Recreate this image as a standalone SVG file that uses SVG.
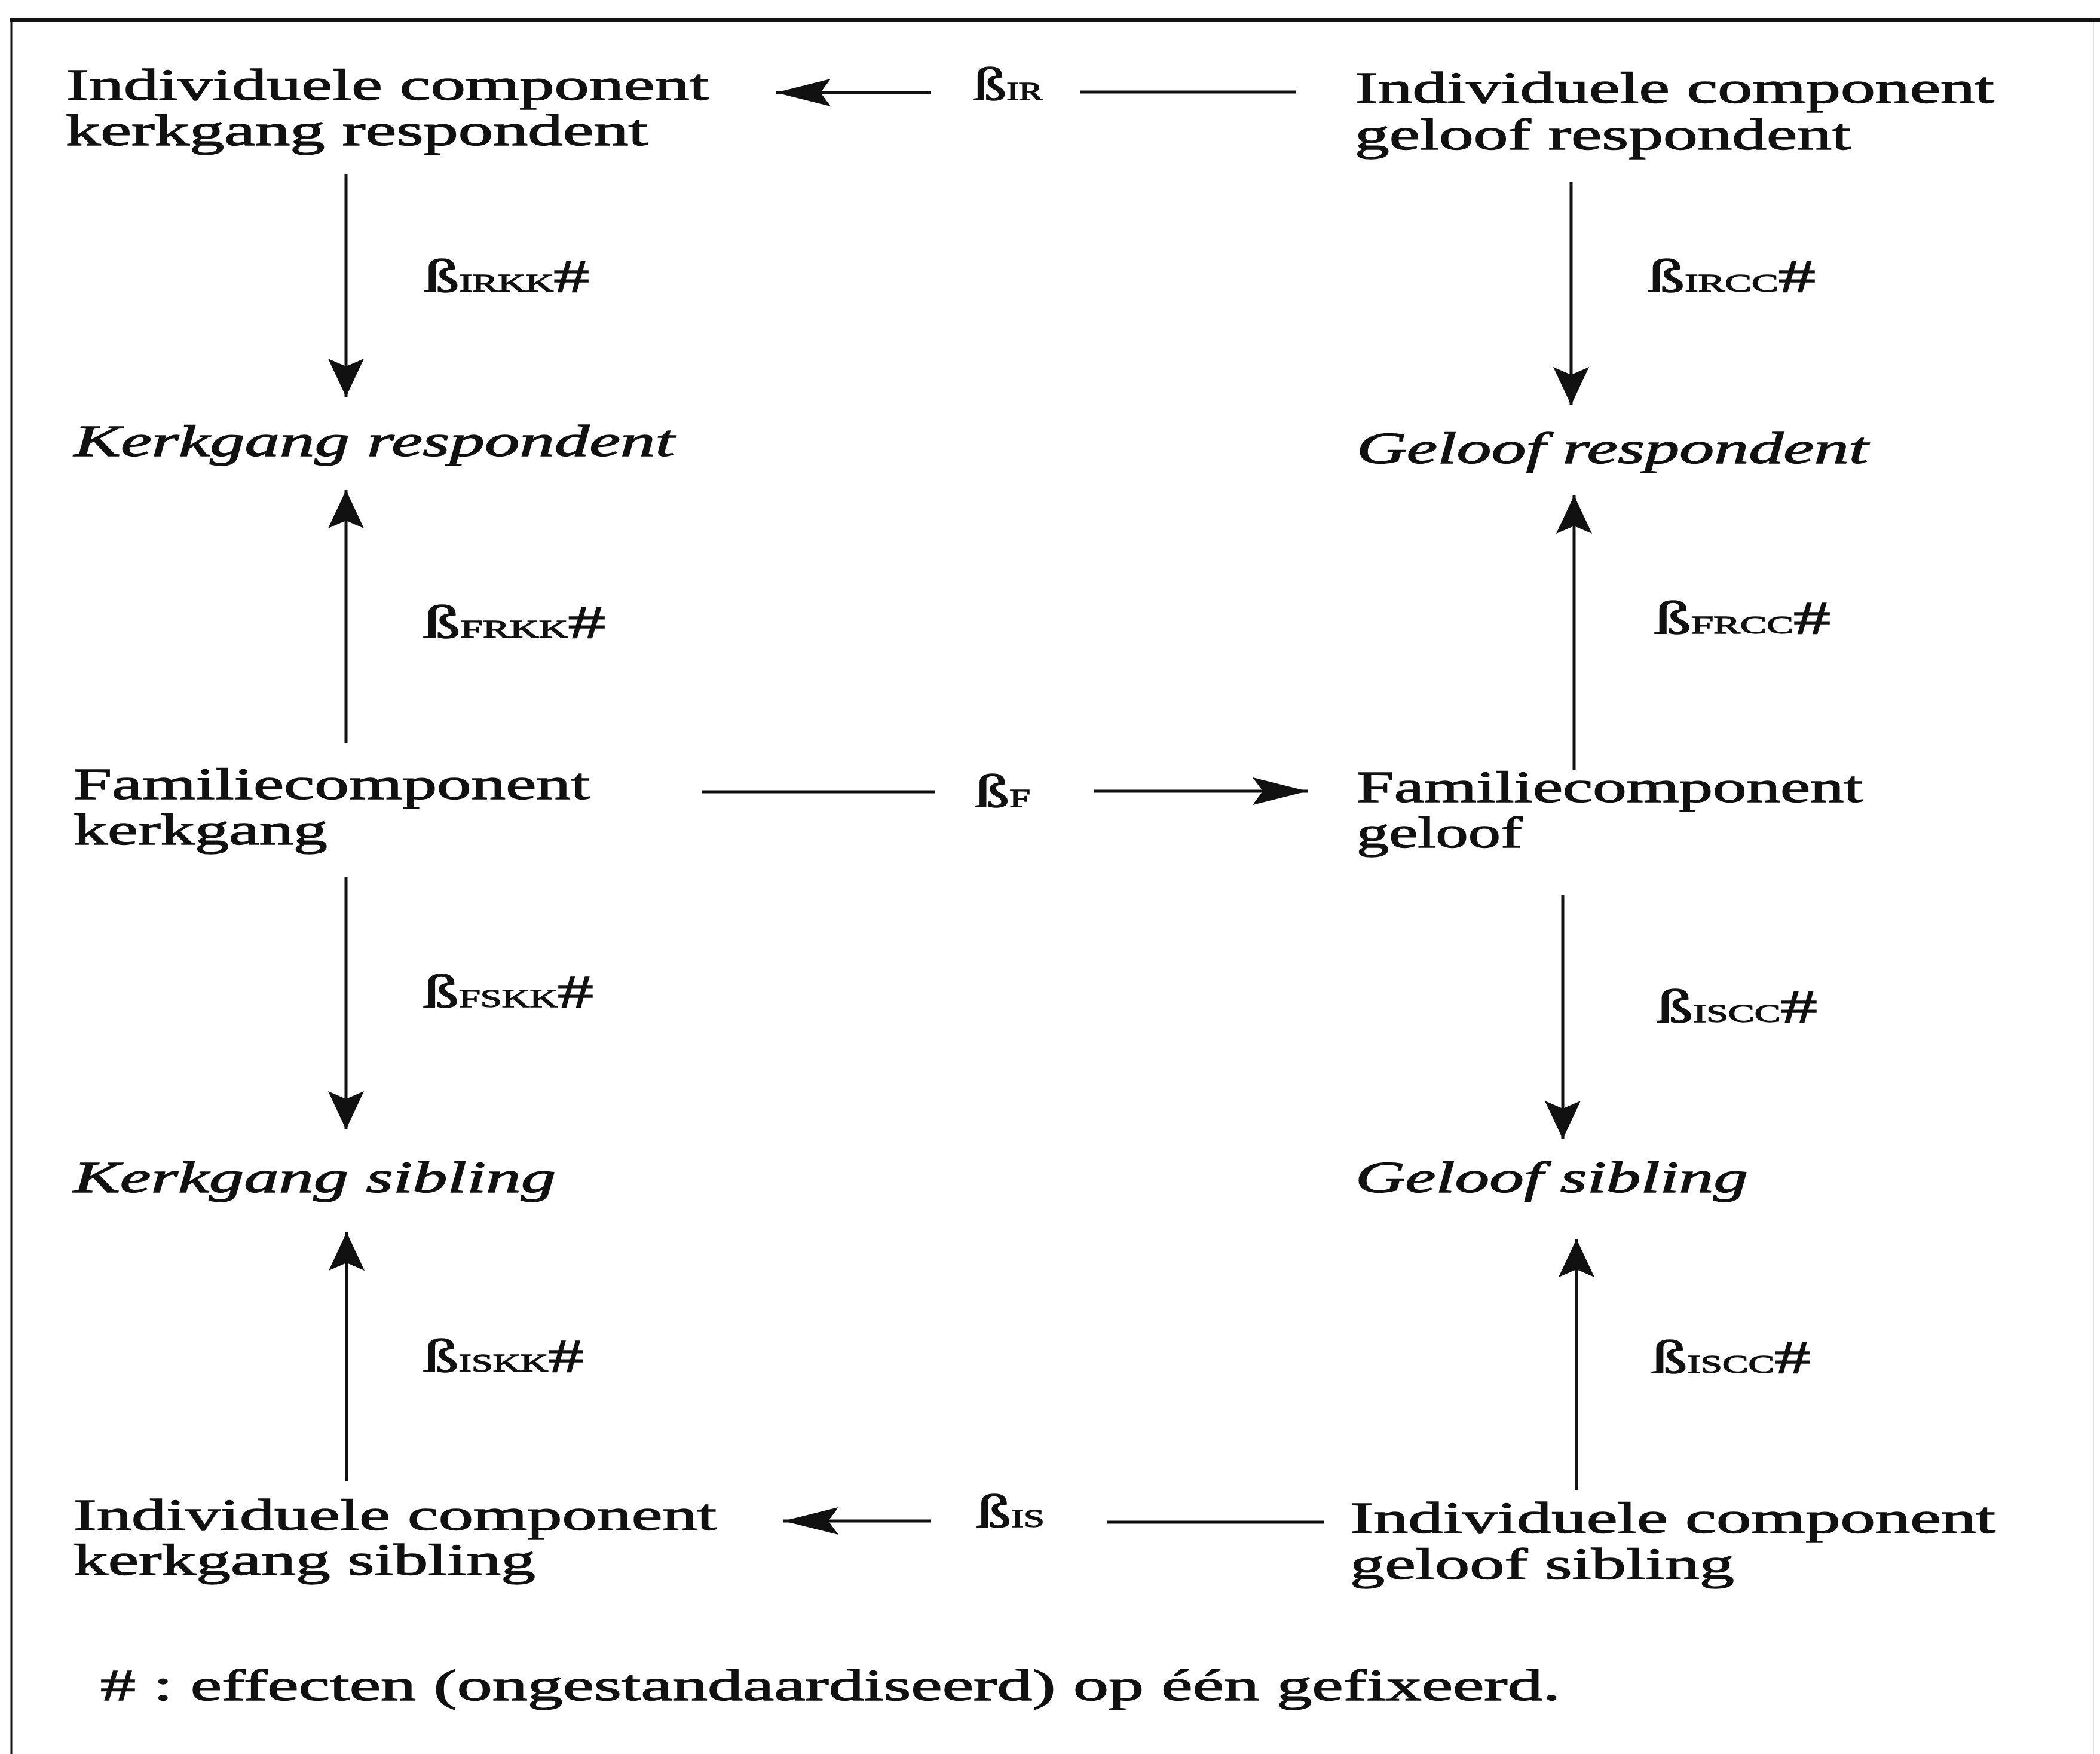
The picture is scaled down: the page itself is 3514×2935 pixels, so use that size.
<svg xmlns="http://www.w3.org/2000/svg" width="3514" height="2935" viewBox="0 0 3514 2935">
<style>
  .t { font-family: "Liberation Serif", "Times New Roman", serif; font-size: 74px; fill: #111; stroke: #111; stroke-width: 1.3; }
  .i { font-style: italic; }
  .lb { font-family: "Liberation Serif", "Times New Roman", serif; font-size: 78px; fill: #111; stroke: #111; stroke-width: 1.3; }
  .sc { font-size: 42px; }
  .ln { stroke: #111; stroke-width: 5; fill: none; }
  .lh { marker-end: url(#ah); }
  .lv { marker-end: url(#av); }
</style>
<defs>
  <marker id="ah" markerUnits="userSpaceOnUse" viewBox="0 0 92 46" markerWidth="92" markerHeight="46" refX="92" refY="23" orient="auto">
    <path d="M0,0 L92,23 L0,46 L17,23 Z" fill="#111"/>
  </marker>
  <marker id="av" markerUnits="userSpaceOnUse" viewBox="0 0 64 60" markerWidth="64" markerHeight="60" refX="64" refY="30" orient="auto">
    <path d="M0,0 L64,30 L0,60 L13,30 Z" fill="#111"/>
  </marker>
</defs>
<rect x="0" y="0" width="3514" height="2935" fill="#fff"/>
<g id="frame">
  <line x1="16" y1="33" x2="3514" y2="33" stroke="#111" stroke-width="6"/>
  <line x1="19" y1="30" x2="19" y2="2935" stroke="#111" stroke-width="3"/>
  <line x1="3503" y1="36" x2="3503" y2="2935" stroke="#ddd" stroke-width="2"/>
</g>
<g id="n1">
  <text class="t" x="110" y="167" textLength="1076" lengthAdjust="spacingAndGlyphs">Individuele component</text>
  <text class="t" x="110" y="243" textLength="974" lengthAdjust="spacingAndGlyphs">kerkgang respondent</text>
</g>
<g id="n2">
  <text class="t" x="2267" y="172" textLength="1070" lengthAdjust="spacingAndGlyphs">Individuele component</text>
  <text class="t" x="2267" y="250" textLength="830" lengthAdjust="spacingAndGlyphs">geloof respondent</text>
</g>
<g id="n3">
  <text class="t i" x="124" y="763" textLength="1005" lengthAdjust="spacingAndGlyphs">Kerkgang respondent</text>
</g>
<g id="n4">
  <text class="t i" x="2270" y="775" textLength="856" lengthAdjust="spacingAndGlyphs">Geloof respondent</text>
</g>
<g id="n5">
  <text class="t" x="123" y="1337" textLength="864" lengthAdjust="spacingAndGlyphs">Familiecomponent</text>
  <text class="t" x="123" y="1413" textLength="425" lengthAdjust="spacingAndGlyphs">kerkgang</text>
</g>
<g id="n6">
  <text class="t" x="2270" y="1342" textLength="847" lengthAdjust="spacingAndGlyphs">Familiecomponent</text>
  <text class="t" x="2270" y="1418" textLength="277" lengthAdjust="spacingAndGlyphs">geloof</text>
</g>
<g id="n7">
  <text class="t i" x="123" y="1995" textLength="807" lengthAdjust="spacingAndGlyphs">Kerkgang sibling</text>
</g>
<g id="n8">
  <text class="t i" x="2268" y="1995" textLength="657" lengthAdjust="spacingAndGlyphs">Geloof sibling</text>
</g>
<g id="n9">
  <text class="t" x="123" y="2560" textLength="1076" lengthAdjust="spacingAndGlyphs">Individuele component</text>
  <text class="t" x="123" y="2635" textLength="773" lengthAdjust="spacingAndGlyphs">kerkgang sibling</text>
</g>
<g id="n10">
  <text class="t" x="2259" y="2565" textLength="1080" lengthAdjust="spacingAndGlyphs">Individuele component</text>
  <text class="t" x="2259" y="2642" textLength="643" lengthAdjust="spacingAndGlyphs">geloof sibling</text>
</g>
<g id="connectors">
  <path class="ln lh" d="M1558,155 L1298,155"/>
  <path class="ln" d="M1808,154 L2169,154"/>
  <path class="ln" d="M1175,1325 L1565,1325"/>
  <path class="ln lh" d="M1831,1324 L2188,1324"/>
  <path class="ln lh" d="M1558,2545 L1311,2545"/>
  <path class="ln" d="M1852,2547 L2216,2547"/>
  <path class="ln lv" d="M579,291 L579,664"/>
  <path class="ln lv" d="M579,1244 L579,820"/>
  <path class="ln lv" d="M579,1468 L579,1890"/>
  <path class="ln lv" d="M580,2478 L580,2062"/>
  <path class="ln lv" d="M2629,305 L2629,678"/>
  <path class="ln lv" d="M2634,1289 L2634,829"/>
  <path class="ln lv" d="M2615,1497 L2615,1906"/>
  <path class="ln lv" d="M2638,2493 L2638,2073"/>
</g>
<g id="labels">
  <text class="lb" x="1628" y="167" textLength="117" lengthAdjust="spacingAndGlyphs">ß<tspan class="sc">IR</tspan></text>
  <text class="lb" x="1631" y="1350" textLength="93" lengthAdjust="spacingAndGlyphs">ß<tspan class="sc">F</tspan></text>
  <text class="lb" x="1634" y="2555" textLength="114" lengthAdjust="spacingAndGlyphs">ß<tspan class="sc">IS</tspan></text>
  <text class="lb" x="709" y="488" textLength="277" lengthAdjust="spacingAndGlyphs">ß<tspan class="sc">IRKK</tspan>#</text>
  <text class="lb" x="2757" y="488" textLength="281" lengthAdjust="spacingAndGlyphs">ß<tspan class="sc">IRCC</tspan>#</text>
  <text class="lb" x="708" y="1067" textLength="305" lengthAdjust="spacingAndGlyphs">ß<tspan class="sc">FRKK</tspan>#</text>
  <text class="lb" x="2768" y="1060" textLength="295" lengthAdjust="spacingAndGlyphs">ß<tspan class="sc">FRCC</tspan>#</text>
  <text class="lb" x="708" y="1685" textLength="285" lengthAdjust="spacingAndGlyphs">ß<tspan class="sc">FSKK</tspan>#</text>
  <text class="lb" x="2772" y="1710" textLength="269" lengthAdjust="spacingAndGlyphs">ß<tspan class="sc">ISCC</tspan>#</text>
  <text class="lb" x="708" y="2295" textLength="269" lengthAdjust="spacingAndGlyphs">ß<tspan class="sc">ISKK</tspan>#</text>
  <text class="lb" x="2763" y="2297" textLength="267" lengthAdjust="spacingAndGlyphs">ß<tspan class="sc">ISCC</tspan>#</text>
</g>
<g id="footnote">
  <text class="t" x="168" y="2845" textLength="2443" lengthAdjust="spacingAndGlyphs"># : effecten (ongestandaardiseerd) op één gefixeerd.</text>
</g>
</svg>
